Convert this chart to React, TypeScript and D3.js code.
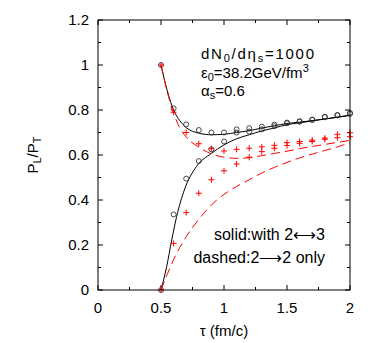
import React from 'react';
import * as d3 from 'd3';

const W = 368;
const H = 343;

// time grid of the markers (fm/c)
const tauPts = [0.5, 0.6, 0.7, 0.8, 0.9, 1.0, 1.1, 1.2, 1.3, 1.4, 1.5, 1.6, 1.7, 1.8, 1.9, 2.0];
// circles: with 2<->3 (markers)
const circUpper = [1.0, 0.807, 0.736, 0.711, 0.70, 0.70, 0.714, 0.719, 0.726, 0.735, 0.744, 0.75, 0.757, 0.77, 0.778, 0.787];
const circLower = [0.0, 0.336, 0.495, 0.573, 0.625, 0.66, 0.70, 0.704, 0.714, 0.728, 0.741, 0.748, 0.756, 0.768, 0.776, 0.783];
// crosses: 2->2 only (markers)
const crossUpper = [1.0, 0.79, 0.70, 0.65, 0.628, 0.618, 0.625, 0.63, 0.636, 0.643, 0.655, 0.66, 0.666, 0.675, 0.692, 0.699];
const crossLower = [0.0, 0.207, 0.344, 0.43, 0.49, 0.53, 0.56, 0.59, 0.615, 0.63, 0.642, 0.652, 0.66, 0.67, 0.677, 0.681];

// solid curves (with 2<->3)
const solidUpperTau = [0.5, 0.55, 0.6, 0.65, 0.7, 0.8, 0.9, 1.0, 1.1, 1.2, 1.3, 1.4, 1.5, 1.6, 1.7, 1.8, 1.9, 2.0];
const solidUpperVal = [1.0, 0.885, 0.8, 0.752, 0.722, 0.697, 0.69, 0.692, 0.70, 0.708, 0.72, 0.73, 0.74, 0.746, 0.753, 0.76, 0.768, 0.777];
const solidLowerTau = [0.5, 0.545, 0.585, 0.624, 0.685, 0.78, 0.9, 1.0, 1.1, 1.2, 1.3, 1.4, 1.5, 1.6, 1.8, 2.0];
const solidLowerVal = [0.0, 0.104, 0.222, 0.326, 0.444, 0.548, 0.607, 0.645, 0.672, 0.69, 0.707, 0.72, 0.735, 0.743, 0.76, 0.776];

// dashed curves (2->2 only)
const dashUpperTau = [0.5, 0.55, 0.6, 0.65, 0.7, 0.8, 0.9, 1.0, 1.1, 1.2, 1.3, 1.4, 1.5, 1.6, 1.7, 1.8, 1.9, 2.0];
const dashUpperVal = [1.0, 0.88, 0.785, 0.72, 0.68, 0.635, 0.605, 0.59, 0.585, 0.588, 0.597, 0.607, 0.617, 0.628, 0.638, 0.647, 0.656, 0.665];
const dashLowerTau = [0.5, 0.55, 0.6, 0.7, 0.8, 0.9, 1.0, 1.1, 1.2, 1.3, 1.4, 1.5, 1.6, 1.7, 1.8, 1.9, 2.0];
const dashLowerVal = [0.0, 0.07, 0.135, 0.237, 0.314, 0.378, 0.425, 0.46, 0.49, 0.52, 0.545, 0.567, 0.587, 0.604, 0.62, 0.636, 0.655];

// ticks
const xMajor = [0, 0.5, 1, 1.5, 2];
const xMinor = [0.25, 0.75, 1.25, 1.75];
const xLabels = ['0', '0.5', '1', '1.5', '2'];
const yMajor = [0, 0.2, 0.4, 0.6, 0.8, 1.0, 1.2];
const yMinor = [0.1, 0.3, 0.5, 0.7, 0.9, 1.1];
const yLabels = ['0', '0.2', '0.4', '0.6', '0.8', '1', '1.2'];

const FONT = '"Liberation Sans", Arial, Helvetica, sans-serif';

export default function App() {
  const L = 98, R = 350, T = 20, B = 290;
  const x = d3.scaleLinear().domain([0, 2]).range([L, R]);
  const y = d3.scaleLinear().domain([0, 1.2]).range([B, T]);

  const line = (ts: number[], vs: number[]) =>
    d3.line<number>().x((_, i) => x(ts[i])).y((v) => y(v)).curve(d3.curveMonotoneX)(vs) || '';

  const majLen = 5, minLen = 3;

  const cross = (cx: number, cy: number, k: string) => (
    <path key={k} d={`M${cx - 3},${cy}H${cx + 3}M${cx},${cy - 3}V${cy + 3}`} stroke="#ff0000" strokeWidth={1} fill="none" />
  );

  return (
    <svg width={W} height={H} style={{ position: 'absolute', left: 0, top: 0, background: '#fff' }} fontFamily={FONT}>
      <rect x={0} y={0} width={W} height={H} fill="#fff" />
      {/* ticks */}
      <g stroke="#000" strokeWidth={1}>
        {xMajor.map((t, i) => (
          <g key={'xm' + i}>
            <line x1={x(t)} x2={x(t)} y1={B} y2={B - majLen} />
            <line x1={x(t)} x2={x(t)} y1={T} y2={T + majLen} />
          </g>
        ))}
        {xMinor.map((t, i) => (
          <g key={'xn' + i}>
            <line x1={x(t)} x2={x(t)} y1={B} y2={B - minLen} />
            <line x1={x(t)} x2={x(t)} y1={T} y2={T + minLen} />
          </g>
        ))}
        {yMajor.map((v, i) => (
          <g key={'ym' + i}>
            <line x1={L} x2={L + majLen} y1={y(v)} y2={y(v)} />
            <line x1={R} x2={R - majLen} y1={y(v)} y2={y(v)} />
          </g>
        ))}
        {yMinor.map((v, i) => (
          <g key={'yn' + i}>
            <line x1={L} x2={L + minLen} y1={y(v)} y2={y(v)} />
            <line x1={R} x2={R - minLen} y1={y(v)} y2={y(v)} />
          </g>
        ))}
      </g>

      {/* solid curves */}
      <path d={line(solidUpperTau, solidUpperVal)} fill="none" stroke="#000" strokeWidth={1} />
      <path d={line(solidLowerTau, solidLowerVal)} fill="none" stroke="#000" strokeWidth={1} />
      {/* circles */}
      {tauPts.map((t, i) => (
        <circle key={'cu' + i} cx={x(t)} cy={y(circUpper[i])} r={2.5} fill="none" stroke="#333" strokeWidth={0.9} />
      ))}
      {tauPts.map((t, i) => (
        <circle key={'cl' + i} cx={x(t)} cy={y(circLower[i])} r={2.5} fill="none" stroke="#333" strokeWidth={0.9} />
      ))}
      {/* dashed curves */}
      <path d={line(dashUpperTau, dashUpperVal)} fill="none" stroke="#ff0000" strokeWidth={1} strokeDasharray="9,5" />
      <path d={line(dashLowerTau, dashLowerVal)} fill="none" stroke="#ff0000" strokeWidth={1} strokeDasharray="9,5" />
      {/* crosses */}
      {tauPts.map((t, i) => cross(x(t), y(crossUpper[i]), 'xu' + i))}
      {tauPts.map((t, i) => cross(x(t), y(crossLower[i]), 'xl' + i))}

      {/* frame */}
      <rect x={L} y={T} width={R - L} height={B - T} fill="none" stroke="#000" strokeWidth={1} />

      {/* tick labels */}
      <g fontSize={15} fill="#000">
        {xMajor.map((t, i) => (
          <text key={'xl' + i} x={x(t)} y={313} textAnchor="middle">{xLabels[i]}</text>
        ))}
        {yMajor.map((v, i) => (
          <text key={'yl' + i} x={89} y={y(v) + 5.3} textAnchor="end">{yLabels[i]}</text>
        ))}
      </g>

      {/* axis labels */}
      <text x={224} y={336} textAnchor="middle" fontSize={15}>τ (fm/c)</text>
      <text transform={`translate(37.5,${(T + B) / 2}) rotate(-90)`} textAnchor="middle" fontSize={15}>
        P<tspan fontSize={11} dy={3}>L</tspan><tspan dy={-3}>/P</tspan><tspan fontSize={11} dy={3}>T</tspan>
      </text>

      {/* annotations */}
      <g fontSize={15} fill="#000">
        <text x={201} y={59} textLength={113} lengthAdjust="spacing">
          dN<tspan fontSize={11} dy={3}>0</tspan><tspan dy={-3}>/dη</tspan><tspan fontSize={11} dy={3}>s</tspan><tspan dy={-3}>=1000</tspan>
        </text>
        <text x={201} y={78}>
          ε<tspan fontSize={11} dy={3}>0</tspan><tspan dy={-3}>=38.2GeV/fm</tspan><tspan fontSize={11} dy={-6}>3</tspan>
        </text>
        <text x={201} y={96}>
          α<tspan fontSize={11} dy={3}>s</tspan><tspan dy={-3}>=0.6</tspan>
        </text>
      </g>
      <g fontSize={16} fill="#000">
        <text x={325} y={240} textAnchor="end">solid:with 2⟷3</text>
        <text x={325} y={263} textAnchor="end">dashed:2⟶2 only</text>
      </g>
    </svg>
  );
}
